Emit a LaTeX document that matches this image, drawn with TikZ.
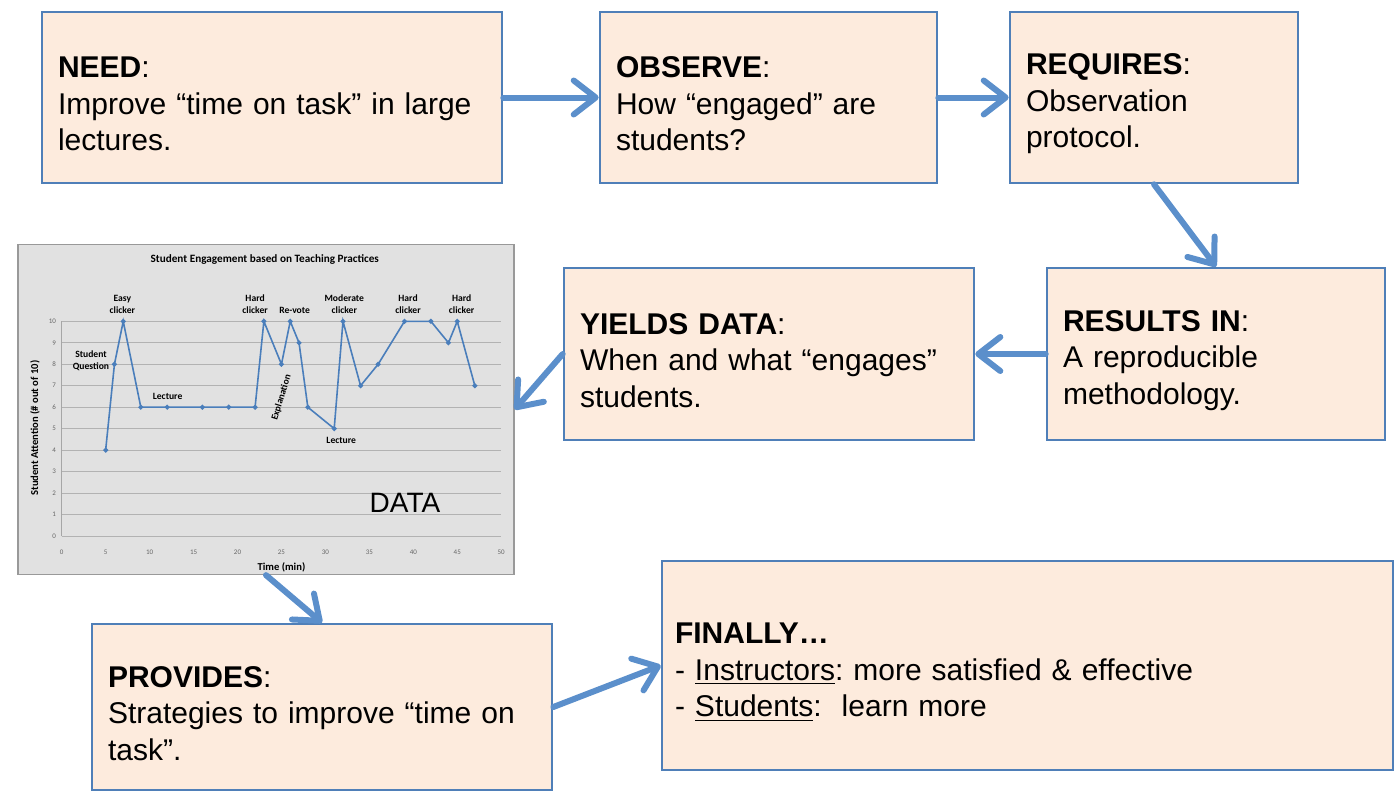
\documentclass[tikz,border=0pt]{standalone}
\usepackage{fontspec}
\setmainfont{Liberation Sans}
\newfontfamily\chartfont{Carlito}
\usetikzlibrary{arrows.meta}
\definecolor{boxfill}{HTML}{FDEBDD}
\definecolor{boxline}{HTML}{4F7FB8}
\definecolor{flowblue}{HTML}{5B8FCB}
\definecolor{chartbg}{HTML}{E1E1E1}
\definecolor{plotblue}{HTML}{4A7EBB}
\frenchspacing
\newcommand\topgap{\rule{0pt}{17pt}}

\begin{document}
\begin{tikzpicture}[x=0.5pt, y=-0.5pt,
		stage/.style={draw=boxline, fill=boxfill, line width=1.3pt, inner xsep=8pt, align=left, font=\fontsize{15}{18.3}\selectfont},
		flow/.style={draw=flowblue, line width=3pt, line cap=round, -{Straight Barb[length=11pt, width=17pt, round]}},
		chartlbl/.style={font=\chartfont\bfseries\fontsize{4.8}{6}\selectfont, align=center, inner sep=0pt},
		ticklbl/.style={font=\chartfont\fontsize{3.5}{4}\selectfont, text=black!60, inner sep=0pt}]
		\useasboundingbox (0,0) rectangle (1395,793);

		% boxes
		\node[stage, minimum width=230pt, minimum height=85.5pt, text width=214pt] (need) at (272,97.5) {\topgap\textbf{NEED}:\\Improve “time on task” in large\\lectures.};
		\node[stage, minimum width=168.5pt, minimum height=85.5pt, text width=152.5pt] (observe) at (768.5,97.5) {\topgap\textbf{OBSERVE}:\\How “engaged” are\\students?};
		\node[stage, minimum width=144pt, minimum height=85.5pt, text width=128pt] (requires) at (1154,97.5) {\topgap\textbf{REQUIRES}:\\Observation\\protocol.};
		\node[stage, minimum width=169pt, minimum height=86pt, text width=153pt] (results) at (1216,354) {\topgap\textbf{RESULTS IN}:\\A reproducible\\methodology.};
		\node[stage, minimum width=205pt, minimum height=86pt, text width=189pt] (yields) at (769,354) {\topgap\textbf{YIELDS DATA}:\\When and what “engages”\\students.};
		\node[stage, minimum width=230pt, minimum height=83pt, text width=214pt] (provides) at (322,707) {\topgap\textbf{PROVIDES}:\\Strategies to improve “time on\\task”.};
		\node[stage, minimum width=365.5pt, minimum height=104.5pt, inner xsep=6.5pt, text width=352.5pt] (finally) at (1027.5,665.5) {\topgap\textbf{FINALLY…}\\- \underline{Instructors}: more satisfied \& effective\\- \underline{Students}:\ \ learn more};

		% chart
		\node[draw=black!40, fill=chartbg, line width=0.6pt, minimum width=248pt, minimum height=165pt, inner sep=0pt] (chart) at (266,409.5) {};
		\begin{scope}[shift={(30.85pt,-268pt)}, x=4.395pt, y=10.735pt]
			\foreach \v in {0,...,10} {
				\draw[black!30, line width=0.4pt] (0,\v) -- (50,\v);
				\node[ticklbl, anchor=east] (yt\v) at (-0.6,\v) {\v};
			}
			\draw[black!35, line width=0.4pt] (0,0) -- (0,10);
			\foreach \t in {0,5,...,50}
				\node[ticklbl] (xt\t) at (\t,-0.76) {\t};
			\draw[plotblue, line width=0.8pt] plot[mark=*, mark size=0.8pt, mark options={fill=plotblue}] coordinates {(5,4) (6,8) (7,10) (9,6) (12,6) (16,6) (19,6) (22,6) (23,10) (25,8) (26,10) (27,9) (28,6) (31,5) (32,10) (34,7) (36,8) (39,10) (42,10) (44,9) (45,10) (47,7)};
			\node[chartlbl, font=\chartfont\bfseries\fontsize{5.6}{6}\selectfont] (ttl) at (23.1,12.86) {Student Engagement based on Teaching Practices};
			\node[chartlbl] (easy) at (6.9,10.8) {Easy\\clicker};
			\node[chartlbl] (hard1) at (22.0,10.8) {Hard\\clicker};
			\node[chartlbl] (revote) at (26.5,10.53) {Re-vote};
			\node[chartlbl] (moder) at (32.15,10.8) {Moderate\\clicker};
			\node[chartlbl] (hard2) at (39.4,10.8) {Hard\\clicker};
			\node[chartlbl] (hard3) at (45.5,10.8) {Hard\\clicker};
			\node[chartlbl] (squest) at (3.33,8.17) {Student\\Question};
			\node[chartlbl] (lect1) at (12.05,6.49) {Lecture};
			\node[chartlbl, rotate=73] (expl) at (25.0,6.45) {Explanation};
			\node[chartlbl] (lect2) at (31.8,4.44) {Lecture};
			\node[chartlbl, font=\chartfont\bfseries\fontsize{5.3}{6}\selectfont, rotate=90] (ylab) at (-3.03,5.03) {Student Attention (\# out of 10)};
			\node[chartlbl, font=\chartfont\bfseries\fontsize{5.3}{6}\selectfont] (xlab) at (25,-1.46) {Time (min)};
			\node[font=\fontsize{14}{16}\selectfont, inner sep=0pt] (datalbl) at (39.05,1.54) {DATA};
		\end{scope}

		% arrows
		\draw[flow] (need.east) -- (observe.west);
		\draw[flow] (observe.east) -- (requires.west);
		\draw[flow] (requires.south) -- (results.north);
		\draw[flow] (results.west) -- (yields.east);
		\draw[flow] (yields.west) -- (chart.east);
		\draw[flow] (chart.south) -- (provides.north);
		\draw[flow] (provides.east) -- (finally.west);
	\end{tikzpicture}
\end{document}
